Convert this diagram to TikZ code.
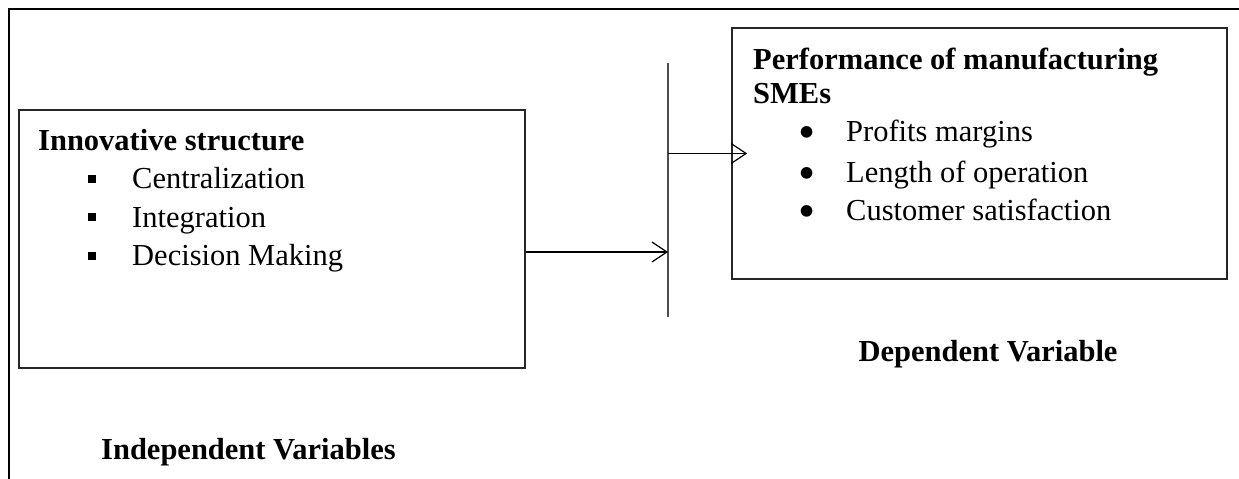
\documentclass[tikz,border=0pt]{standalone}
\usepackage{fontspec}
\setmainfont{Liberation Serif}
\usepackage{tikz}
\usetikzlibrary{arrows.meta, positioning, calc}
\tikzstyle{varbox} = [rectangle, draw=black!85, line width=1.6pt, inner sep=0pt]
\tikzstyle{itemlist} = [align=left, inner sep=0pt, font=\fontsize{30.5}{38.5}\selectfont]
\tikzstyle{varlabel} = [inner sep=0pt, font=\fontsize{30.5}{36}\selectfont\bfseries]
\tikzstyle{arrow} = [line width=1.2pt, -{Straight Barb[length=15pt, width=20pt, line width=1.2pt]}]
\newcommand{\sqitem}[1]{\makebox[94pt][l]{\hspace*{50pt}\rule[6pt]{8pt}{8pt}}#1}
\newcommand{\dotitem}[1]{\makebox[93pt][l]{\hspace*{45.5pt}\smash{\raisebox{-7pt}{\scalebox{1.6}{\textbullet}}}}#1}

\begin{document}
\begin{tikzpicture}[x=1pt, y=1pt]
\useasboundingbox (0,0) rectangle (1239,479);
% outer frame
\draw [line width=2pt] (9,0) -- (9,470) -- (1239,470);

\node (indep) [varbox, minimum width=506pt, minimum height=258pt] at (272,240) {};
\node (dep) [varbox, minimum width=495pt, minimum height=251pt] at (979.5,325.5) {};

% lists, placed by the baseline of their last line
\node (indeplist) [itemlist, anchor=base west] at (38,213) {\textbf{Innovative structure}\\
    \sqitem{Centralization}\\
    \sqitem{Integration}\\
    \sqitem{Decision Making}};
\node (deplist) [itemlist, anchor=base west] at (753,258) {\textbf{Performance of manufacturing}\\[-5pt]
    \textbf{SMEs}\\
    \dotitem{Profits margins}\\[2pt]
    \dotitem{Length of operation}\\
    \dotitem{Customer satisfaction}};

\node (deplabel) [varlabel, below=60pt of dep, xshift=8.5pt] {Dependent Variable};
\node (indeplabel) [varlabel, below=69pt of indep, xshift=-23.5pt] {Independent Variables};

% joining bar
\coordinate (bartop) at (668,416);
\coordinate (barbot) at (668,162);
\coordinate (joinin) at (668,227);
\coordinate (joinout) at (bartop |- dep.west);
\draw [line width=1.4pt, black!70] (bartop) -- (barbot);

\draw [arrow] (indep.east |- joinin) -- (joinin);
\draw [arrow, shorten >=-16pt] (joinout) -- (dep.west);
\end{tikzpicture}
\end{document}
